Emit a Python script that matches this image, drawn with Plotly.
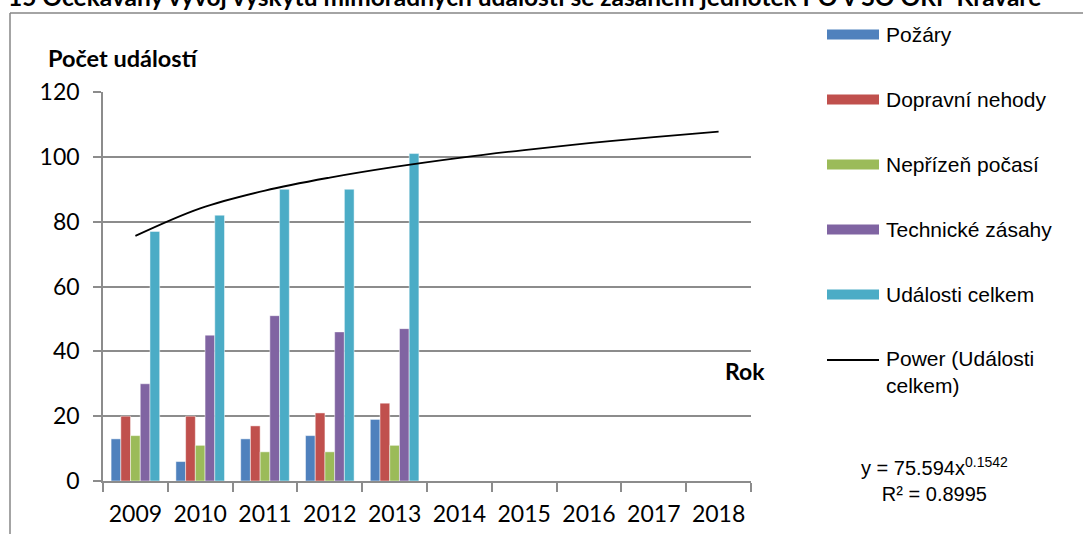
import plotly.graph_objects as go

# ---- data ----
years = ["2009", "2010", "2011", "2012", "2013", "2014", "2015", "2016", "2017", "2018"]
data_years = ["2009", "2010", "2011", "2012", "2013"]
pozary = [13, 6, 13, 14, 19]
dopravni = [20, 20, 17, 21, 24]
neprizen = [14, 11, 9, 9, 11]
technicke = [30, 45, 51, 46, 47]
celkem = [77, 82, 90, 90, 101]
# power trendline values (y = 75.594x^0.1542)
trend = [75.6, 84.1, 89.6, 93.6, 96.9, 99.7, 102.1, 104.2, 106.1, 107.8]

series_names = ["Požáry", "Dopravní nehody", "Nepřízeň počasí", "Technické zásahy", "Události celkem"]
series_vals = [pozary, dopravni, neprizen, technicke, celkem]
colors = ["#4F81BD", "#C0504D", "#9BBB59", "#8064A2", "#4BACC6"]

W, H = 1083, 534
L, R, T, B = 103, 751, 92, 481
GRID = "#8c8c8c"

def px(x):
    return (x - L) / (R - L)

def py(y):
    return (B - y) / (B - T)

fig = go.Figure()
for name, vals, col in zip(series_names, series_vals, colors):
    fig.add_trace(go.Bar(x=data_years, y=vals, name=name, marker_color=col,
                         marker_line=dict(width=0.6, color="rgba(255,255,255,0.8)"),
                         showlegend=False))
fig.add_trace(go.Scatter(x=years, y=trend, mode="lines", name="Power (Události celkem)",
                         line=dict(color="black", width=1.8, shape="spline"), showlegend=False))

fig.update_layout(
    width=W, height=H, autosize=False,
    margin=dict(l=L, r=W - R, t=T, b=H - B, pad=0, autoexpand=False),
    paper_bgcolor="white", plot_bgcolor="white",
    barmode="group", bargap=0.25, bargroupgap=0,
    showlegend=False,
    font=dict(family="Lato", color="black"),
)
fig.update_xaxes(type="category", categoryorder="array", categoryarray=years,
                 range=[-0.5, 9.5], showline=True, linecolor=GRID, linewidth=1.5,
                 ticks="outside", tickson="boundaries", ticklen=9, tickcolor=GRID, tickwidth=1.5,
                 ticklabelstandoff=12, automargin=False,
                 tickfont=dict(family="Lato", size=23, color="black"), showgrid=False)
fig.update_yaxes(range=[0, 120], dtick=20, showline=True, linecolor=GRID, linewidth=1.5,
                 showgrid=True, gridcolor=GRID, gridwidth=1.5, zeroline=False,
                 ticks="outside", ticklen=8, tickcolor=GRID, tickwidth=1.5,
                 ticklabelstandoff=9, automargin=False,
                 tickfont=dict(family="Lato", size=23, color="black"))

def note(text, x, y, xanchor="left", size=23, family="Lato", align="left"):
    return dict(text=text, x=px(x), y=py(y), xref="paper", yref="paper",
                xanchor=xanchor, yanchor="middle", align=align, showarrow=False,
                font=dict(family=family, size=size, color="black"))

ann = []
# title (cut at top in the reference)
ann.append(note("<b>15 Očekávaný vývoj výskytu mimořádných událostí se zásahem jednotek PO v SO ORP Kravaře</b>",
                6, -3.5, size=24.5))
ann.append(note("<b>Počet událostí</b>", 46, 58, size=23.5))
ann.append(note("<b>Rok</b>", 745, 371, xanchor="center"))

shapes = []
# outer chart border (top + left)
shapes.append(dict(type="line", xref="paper", yref="paper", x0=px(10), x1=px(1090), y0=py(13), y1=py(13),
                   line=dict(color="#868686", width=1.5)))
shapes.append(dict(type="line", xref="paper", yref="paper", x0=px(10), x1=px(10), y0=py(13), y1=py(540),
                   line=dict(color="#868686", width=1.5)))

# manual legend
leg_y = [34.5, 99.5, 164.5, 229.5, 294.5]
for name, col, yy in zip(series_names, colors, leg_y):
    shapes.append(dict(type="rect", xref="paper", yref="paper", x0=px(827), x1=px(879),
                       y0=py(yy - 5), y1=py(yy + 5), fillcolor=col, line=dict(width=0)))
    ann.append(note(name, 884, yy, family="Liberation Sans", size=21))
shapes.append(dict(type="line", xref="paper", yref="paper", x0=px(827), x1=px(879), y0=py(360), y1=py(360),
                   line=dict(color="black", width=1.8)))
ann.append(note("Power (Události<br>celkem)", 884, 372, family="Liberation Sans", size=21))
# equation
ann.append(note("y = 75.594x<sup>0.1542</sup><br>R² = 0.8995", 934, 479, xanchor="center",
                family="Liberation Sans", size=20, align="center"))

fig.update_layout(annotations=ann, shapes=shapes)
fig.write_html("out.html", config={"displayModeBar": False},
               post_script="document.body.style.margin='0';")
